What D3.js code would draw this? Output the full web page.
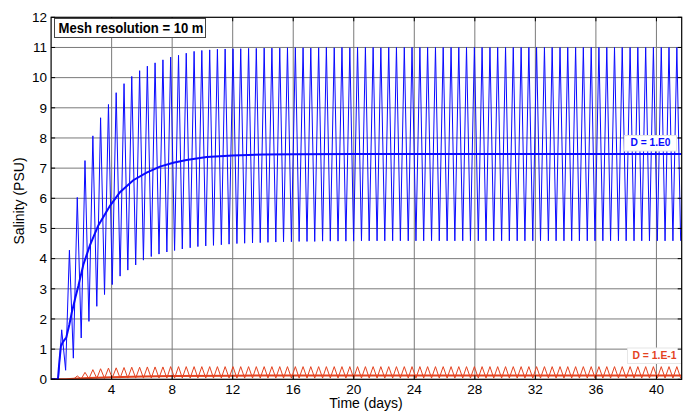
<!DOCTYPE html>
<html>
<head>
<meta charset="utf-8">
<script src="https://cdn.jsdelivr.net/npm/d3@7"></script>
<style>
  html, body { margin: 0; padding: 0; background: #fff; }
  svg { display: block; font-family: "Liberation Sans", Arial, Helvetica, sans-serif; }
</style>
</head>
<body>
<svg id="chart" width="691" height="412"></svg>
<script>
// Salinity at a station, mesh resolution 10 m, two diffusion coefficients.
const xTicks = [4, 8, 12, 16, 20, 24, 28, 32, 36, 40];
const yTicks = [0, 1, 2, 3, 4, 5, 6, 7, 8, 9, 10, 11, 12];
const timeEnd = 41.67; // days (1000 h)

// Times (days) of high and low water
const highTimes = [0.70, 1.21, 1.73, 2.24, 2.76, 3.27, 3.79, 4.30, 4.82, 5.33,
  5.85, 6.36, 6.87, 7.39, 7.90, 8.42, 8.93, 9.45, 9.96, 10.48,
  10.99, 11.50, 12.02, 12.53, 13.05, 13.56, 14.08, 14.59, 15.11, 15.62,
  16.14, 16.65, 17.16, 17.68, 18.19, 18.71, 19.22, 19.74, 20.25, 20.77,
  21.28, 21.79, 22.31, 22.82, 23.34, 23.85, 24.37, 24.88, 25.40, 25.91,
  26.43, 26.94, 27.45, 27.97, 28.48, 29.00, 29.51, 30.03, 30.54, 31.06,
  31.57, 32.08, 32.60, 33.11, 33.63, 34.14, 34.66, 35.17, 35.69, 36.20,
  36.72, 37.23, 37.74, 38.26, 38.77, 39.29, 39.80, 40.32, 40.83, 41.35];
const lowTimes = [0.96, 1.47, 1.99, 2.50, 3.02, 3.53, 4.04, 4.56, 5.07, 5.59,
  6.10, 6.62, 7.13, 7.65, 8.16, 8.67, 9.19, 9.70, 10.22, 10.73,
  11.25, 11.76, 12.28, 12.79, 13.31, 13.82, 14.33, 14.85, 15.36, 15.88,
  16.39, 16.91, 17.42, 17.94, 18.45, 18.96, 19.48, 19.99, 20.51, 21.02,
  21.54, 22.05, 22.57, 23.08, 23.60, 24.11, 24.62, 25.14, 25.65, 26.17,
  26.68, 27.20, 27.71, 28.23, 28.74, 29.25, 29.77, 30.28, 30.80, 31.31,
  31.83, 32.34, 32.86, 33.37, 33.89, 34.40, 34.91, 35.43, 35.94, 36.46,
  36.97, 37.49, 38.00, 38.52, 39.03, 39.54, 40.06, 40.57, 41.09, 41.60];

// D = 1.E0 : salinity at high and low water (PSU)
const blueHigh = [1.64, 4.28, 6.03, 7.25, 8.07, 8.67, 9.11, 9.50, 9.80, 10.04,
  10.23, 10.38, 10.49, 10.59, 10.68, 10.74, 10.81, 10.87, 10.90, 10.92,
  10.94, 10.95, 10.96, 10.96, 10.97, 10.97, 10.98, 10.98, 10.98, 10.99,
  10.99, 10.99, 10.98, 10.99, 11.00, 10.99, 11.00, 10.99, 11.00, 11.00,
  11.00, 10.99, 11.00, 11.00, 11.00, 11.00, 11.00, 11.00, 11.00, 11.00,
  11.00, 11.00, 11.00, 11.00, 11.00, 11.00, 11.00, 11.00, 11.00, 11.00,
  11.00, 11.00, 11.00, 11.00, 11.00, 11.00, 11.00, 11.00, 11.00, 11.00,
  11.00, 11.00, 11.00, 11.00, 11.00, 11.00, 11.00, 11.00, 11.00, 11.00];
const blueLow = [0.30, 0.70, 1.37, 1.92, 2.42, 2.81, 3.14, 3.42, 3.62, 3.79,
  3.95, 4.07, 4.15, 4.22, 4.27, 4.32, 4.36, 4.40, 4.42, 4.44,
  4.46, 4.48, 4.50, 4.51, 4.52, 4.53, 4.54, 4.55, 4.56, 4.56,
  4.57, 4.57, 4.57, 4.58, 4.58, 4.58, 4.58, 4.58, 4.59, 4.59,
  4.59, 4.59, 4.59, 4.59, 4.59, 4.59, 4.59, 4.59, 4.59, 4.59,
  4.59, 4.59, 4.59, 4.59, 4.59, 4.59, 4.59, 4.59, 4.59, 4.59,
  4.59, 4.59, 4.59, 4.59, 4.59, 4.59, 4.59, 4.59, 4.59, 4.59,
  4.59, 4.59, 4.59, 4.59, 4.59, 4.59, 4.59, 4.59, 4.59, 4.59];
// D = 1.E0 : tidally averaged salinity [day, PSU]
const blueMean = [[0, 0], [0.45, 0], [0.55, 0.6], [0.65, 1.1], [0.8, 1.25], [1.0, 1.38],
  [1.2, 1.8], [1.36, 2.2], [1.6, 2.7], [1.8, 3.09], [2.13, 3.8], [2.57, 4.45],
  [3.12, 5.1], [3.89, 5.75], [4.55, 6.2], [5.43, 6.6], [6.31, 6.85], [7.19, 7.05],
  [8.07, 7.18], [8.95, 7.27], [10.28, 7.37], [12, 7.42], [14, 7.45], [16, 7.46],
  [20, 7.47], [41.67, 7.47]];

// D = 1.E-1 : salinity at high and low water (PSU)
const redHigh = [0.00, 0.01, 0.11, 0.23, 0.32, 0.35, 0.37, 0.38, 0.39, 0.40,
  0.40, 0.41, 0.41, 0.41, 0.42, 0.42, 0.42, 0.42, 0.42, 0.42,
  0.42, 0.42, 0.42, 0.42, 0.42, 0.42, 0.42, 0.42, 0.42, 0.42,
  0.42, 0.42, 0.42, 0.42, 0.42, 0.42, 0.42, 0.42, 0.42, 0.42,
  0.42, 0.42, 0.42, 0.42, 0.42, 0.42, 0.42, 0.42, 0.42, 0.42,
  0.42, 0.42, 0.42, 0.42, 0.42, 0.42, 0.42, 0.42, 0.42, 0.42,
  0.42, 0.42, 0.42, 0.42, 0.42, 0.42, 0.42, 0.42, 0.42, 0.42,
  0.42, 0.42, 0.42, 0.42, 0.42, 0.42, 0.42, 0.42, 0.42, 0.42];
const redLow = [0.00, 0.00, 0.01, 0.02, 0.03, 0.03, 0.04, 0.04, 0.04, 0.04,
  0.04, 0.04, 0.04, 0.04, 0.04, 0.04, 0.04, 0.04, 0.04, 0.04,
  0.04, 0.04, 0.04, 0.04, 0.04, 0.04, 0.04, 0.04, 0.04, 0.04,
  0.04, 0.04, 0.04, 0.04, 0.04, 0.04, 0.04, 0.04, 0.04, 0.04,
  0.04, 0.04, 0.04, 0.04, 0.04, 0.04, 0.04, 0.04, 0.04, 0.04,
  0.04, 0.04, 0.04, 0.04, 0.04, 0.04, 0.04, 0.04, 0.04, 0.04,
  0.04, 0.04, 0.04, 0.04, 0.04, 0.04, 0.04, 0.04, 0.04, 0.04,
  0.04, 0.04, 0.04, 0.04, 0.04, 0.04, 0.04, 0.04, 0.04, 0.04];
const redMean = [[0, 0], [1.0, 0], [1.5, 0.02], [2.5, 0.04], [4, 0.07], [6, 0.09],
  [8, 0.11], [12, 0.12], [16, 0.13], [41.67, 0.13]];

const blueColor = "#0a0aff";
const redColor = "#e4421f";

const svg = d3.select("#chart");
const m = { left: 51.1, top: 17.3, right: 681.7, bottom: 379.3 };
const x = d3.scaleLinear().domain([0, timeEnd]).range([m.left, m.right]);
const y = d3.scaleLinear().domain([0, 12]).range([m.bottom, m.top]);

svg.append("defs").append("clipPath").attr("id", "plotClip")
  .append("rect").attr("x", m.left).attr("y", m.top - 2)
  .attr("width", m.right - m.left).attr("height", m.bottom - m.top + 2);

// grid
const grid = svg.append("g").attr("stroke", "#7a7a7a").attr("stroke-width", 1);
grid.selectAll("line.gx").data(xTicks).join("line")
  .attr("x1", d => x(d)).attr("x2", d => x(d)).attr("y1", m.top).attr("y2", m.bottom);
grid.selectAll("line.gy").data(yTicks.slice(1, -1)).join("line")
  .attr("y1", d => y(d)).attr("y2", d => y(d)).attr("x1", m.left).attr("x2", m.right);

// tidal series built from the high/low water arrays
function tidal(highs, lows, start) {
  const pts = start.slice();
  highs.forEach((h, i) => {
    pts.push([highTimes[i], h]);
    pts.push([lowTimes[i], lows[i]]);
  });
  return pts;
}
const line = d3.line().x(d => x(d[0])).y(d => y(d[1]));
const plot = svg.append("g").attr("clip-path", "url(#plotClip)");

plot.append("path").datum(tidal(redHigh, redLow, [[0, 0], [0.48, 0]]))
  .attr("d", line).attr("fill", "none").attr("stroke", redColor).attr("stroke-width", 1);
plot.append("path").datum(redMean)
  .attr("d", line).attr("fill", "none").attr("stroke", redColor).attr("stroke-width", 2);
plot.append("path").datum(tidal(blueHigh, blueLow, [[0, 0], [0.48, 0]]))
  .attr("d", line).attr("fill", "none").attr("stroke", blueColor).attr("stroke-width", 1);
plot.append("path").datum(blueMean)
  .attr("d", line).attr("fill", "none").attr("stroke", blueColor).attr("stroke-width", 2);

// series labels
function tag(txt, color, cx, by, w, tw) {
  const g = svg.append("g");
  g.append("rect").attr("x", cx - w / 2).attr("y", by - 10.5).attr("width", w).attr("height", 15.5)
    .attr("fill", "#fff").attr("stroke", "#e6e6e6").attr("stroke-width", 1);
  g.append("text").attr("x", cx).attr("y", by).attr("text-anchor", "middle")
    .attr("font-size", 11).attr("font-weight", "bold").attr("fill", color)
    .attr("textLength", tw).attr("lengthAdjust", "spacingAndGlyphs").text(txt);
}
tag("D = 1.E0", blueColor, 650.5, 146, 52, 40);
tag("D = 1.E-1", redColor, 654.5, 358.5, 54, 44);

// frame
svg.append("rect").attr("x", m.left).attr("y", m.top)
  .attr("width", m.right - m.left).attr("height", m.bottom - m.top)
  .attr("fill", "none").attr("stroke", "#000").attr("stroke-width", 1.2);

// inward ticks on all four sides
const tk = svg.append("g").attr("stroke", "#000").attr("stroke-width", 1);
xTicks.forEach(d => {
  tk.append("line").attr("x1", x(d)).attr("x2", x(d)).attr("y1", m.bottom).attr("y2", m.bottom - 4);
  tk.append("line").attr("x1", x(d)).attr("x2", x(d)).attr("y1", m.top).attr("y2", m.top + 4);
});
yTicks.forEach(d => {
  tk.append("line").attr("y1", y(d)).attr("y2", y(d)).attr("x1", m.left).attr("x2", m.left + 4);
  tk.append("line").attr("y1", y(d)).attr("y2", y(d)).attr("x1", m.right).attr("x2", m.right - 4);
});

// tick labels
svg.append("g").selectAll("text").data(xTicks).join("text")
  .attr("x", d => x(d)).attr("y", 393.5).attr("text-anchor", "middle")
  .attr("font-size", 13.5).attr("fill", "#000").text(d => d);
svg.append("g").selectAll("text").data(yTicks).join("text")
  .attr("x", 47).attr("y", d => y(d) + 4.8).attr("text-anchor", "end")
  .attr("font-size", 13.5).attr("fill", "#000").text(d => d);

// axis titles
svg.append("text").attr("x", 366).attr("y", 408).attr("text-anchor", "middle")
  .attr("font-size", 14).text("Time (days)");
svg.append("text").attr("transform", "translate(24,201) rotate(-90)")
  .attr("text-anchor", "middle").attr("font-size", 14).text("Salinity (PSU)");

// title box
svg.append("rect").attr("x", 54.5).attr("y", 18.5).attr("width", 151).attr("height", 19)
  .attr("fill", "#fff").attr("stroke", "#444").attr("stroke-width", 1);
svg.append("text").attr("x", 58.5).attr("y", 32.8).attr("font-size", 14)
  .attr("font-weight", "bold").attr("fill", "#000")
  .attr("textLength", 145).attr("lengthAdjust", "spacingAndGlyphs")
  .text("Mesh resolution = 10 m");
</script>
</body>
</html>
